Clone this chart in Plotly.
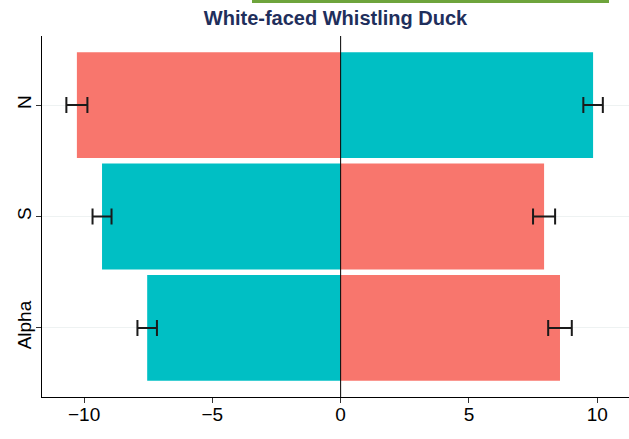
import plotly.graph_objects as go

categories = ["Alpha", "S", "N"]
left_values = [-7.54, -9.30, -10.28]
left_errors = [0.38, 0.37, 0.41]
left_colors = ["#00BFC4", "#00BFC4", "#F8766D"]
right_values = [8.55, 7.93, 9.84]
right_errors = [0.46, 0.43, 0.38]
right_colors = ["#F8766D", "#F8766D", "#00BFC4"]
x_ticks = [-10, -5, 0, 5, 10]
x_tick_labels = ["\u221210", "\u22125", "0", "5", "10"]

fig = go.Figure()
for vals, errs, cols in [(left_values, left_errors, left_colors),
                         (right_values, right_errors, right_colors)]:
    fig.add_trace(go.Bar(
        x=vals, y=categories, orientation="h", width=0.95,
        marker=dict(color=cols, line=dict(width=0)),
        error_x=dict(type="data", array=errs, visible=True,
                     color="#1a1a1a", thickness=2, width=8),
        showlegend=False, hoverinfo="skip",
    ))

fig.add_shape(type="line", xref="x", yref="paper", x0=0, x1=0, y0=0, y1=1,
              line=dict(color="black", width=1))
fig.add_shape(type="rect", xref="paper", yref="paper",
              x0=(252 - 42) / 587, x1=(609 - 42) / 587,
              y0=1 + 33 / 362, y1=1 + 36 / 362,
              fillcolor="#6ea43c", line=dict(width=0))

fig.update_layout(
    width=629, height=439,
    margin=dict(l=42, r=0, t=36, b=42, autoexpand=False),
    paper_bgcolor="white", plot_bgcolor="white",
    barmode="overlay",
    font=dict(family="Liberation Sans, Arial, sans-serif", color="black"),
    title=dict(text="<b>White-faced Whistling Duck</b>", x=335.5 / 629, xanchor="center",
               y=1 - 18 / 439, yanchor="middle",
               font=dict(size=20, color="#1f2f5c")),
    xaxis=dict(range=[-11.64, 11.24], tickvals=x_ticks, ticktext=x_tick_labels,
               showgrid=False, zeroline=False, showline=True, linecolor="black",
               linewidth=1, ticks="outside", ticklen=5, tickcolor="#333",
               ticklabelstandoff=-5,
               automargin=False, tickfont=dict(size=19, color="black")),
    yaxis=dict(type="category", categoryorder="array", categoryarray=categories,
               range=[-0.62, 2.62], showgrid=True, gridcolor="#eef2f2",
               zeroline=False, showline=True, linecolor="black", linewidth=1,
               ticks="outside", ticklen=5, tickcolor="#333", tickangle=-90,
               ticklabelstandoff=-3,
               automargin=False, tickfont=dict(size=19, color="black")),
)

fig.write_html("out.html", config={"displayModeBar": False},
               post_script="document.body.style.margin='0';document.body.style.overflow='hidden';")
